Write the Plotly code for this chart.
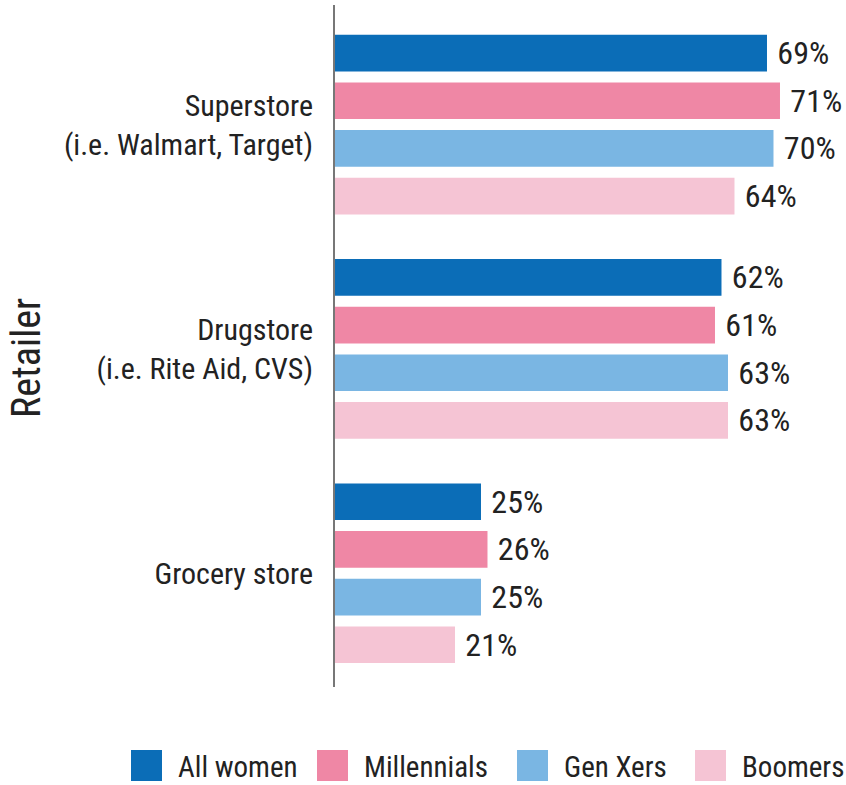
import plotly.graph_objects as go

categories = ["Superstore<br>(i.e. Walmart, Target)", "Drugstore<br>(i.e. Rite Aid, CVS)", "Grocery store"]
series_names = ["All women", "Millennials", "Gen Xers", "Boomers"]
all_women = [69, 62, 25]
millennials = [71, 61, 26]
gen_xers = [70, 63, 25]
boomers = [64, 63, 21]
series_values = [all_women, millennials, gen_xers, boomers]
colors = ["#0b6db7", "#ef87a5", "#7ab6e3", "#f5c4d4"]

FONT = "Roboto Condensed, Roboto, sans-serif"
TXT = "#222222"

fig = go.Figure()
for name, vals, col in zip(series_names, series_values, colors):
    fig.add_trace(go.Bar(
        y=categories, x=vals, name=name, orientation="h",
        marker=dict(color=col, line=dict(width=0)),
        text=[f"{v}%" for v in vals],
        texttemplate=" %{text}",
        textposition="outside", cliponaxis=False, constraintext="none",
        textfont=dict(family=FONT, size=32, color=TXT),
        showlegend=False,
    ))

W, H = 846, 785
ml, mr, mt, mb = 335, 10, 5, 98
plot_w = W - ml - mr
plot_h = H - mt - mb

fig.update_layout(
    width=W, height=H,
    margin=dict(l=ml, r=mr, t=mt, b=mb),
    barmode="group", bargap=0.15, bargroupgap=0.23,
    plot_bgcolor="white", paper_bgcolor="white",
    font=dict(family=FONT, size=30, color=TXT),
    xaxis=dict(range=[2.54, 2.54 + plot_w / 6.5], visible=False, showgrid=False, zeroline=False),
    yaxis=dict(autorange=False, range=[2.507, -0.533], showgrid=False, zeroline=False,
               showline=True, linecolor="#777777", linewidth=2, ticks="",
               ticklabelstandoff=14, tickfont=dict(family=FONT, size=30, color=TXT)),
)

def px_to_paper_x(px):
    return (px - ml) / plot_w
def py_to_paper_y(py):
    return (H - mb - py) / plot_h

# y-axis title
fig.add_annotation(text="Retailer", xref="paper", yref="paper",
                   x=px_to_paper_x(26), y=py_to_paper_y(358), xanchor="center", yanchor="middle",
                   textangle=-90, showarrow=False,
                   font=dict(family=FONT, size=40, color=TXT))

# custom legend (large square swatches)
sq_x = [131, 317, 517, 695]
for name, col, x0 in zip(series_names, colors, sq_x):
    fig.add_shape(type="rect", xref="paper", yref="paper",
                  x0=px_to_paper_x(x0), x1=px_to_paper_x(x0 + 31),
                  y0=py_to_paper_y(781), y1=py_to_paper_y(750),
                  fillcolor=col, line=dict(width=0))
    fig.add_annotation(text=name, xref="paper", yref="paper",
                       x=px_to_paper_x(x0 + 45), y=py_to_paper_y(767),
                       xanchor="left", yanchor="middle", showarrow=False,
                       font=dict(family=FONT, size=29, color=TXT))

fig.write_html("out.html")
